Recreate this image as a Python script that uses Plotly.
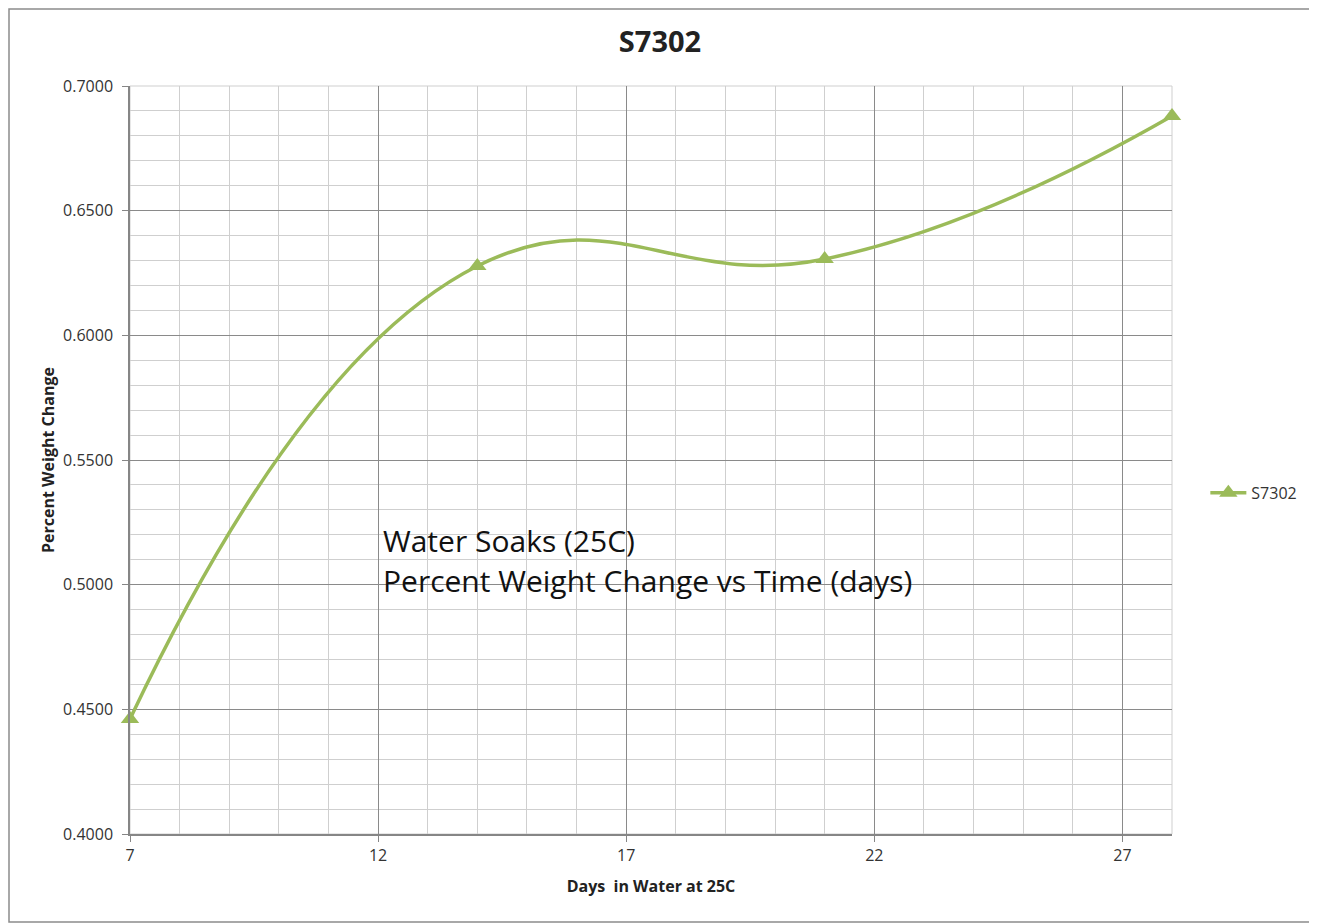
import plotly.graph_objects as go

# data
days = [7, 14, 21, 28]
weight_change = [0.4461, 0.6278, 0.6306, 0.6880]
series_name = "S7302"

green = "#9BBB59"
font_family = "Open Sans, Noto Sans, Liberation Sans, sans-serif"

# the page adds an 8px body margin, so the figure is a bit smaller than the window
W, H = 1309, 916
L, T, PW, PH = 122, 78, 1042, 748

fig = go.Figure()

fig.add_trace(go.Scatter(
    x=days, y=weight_change, name=series_name,
    mode="lines+markers", cliponaxis=False,
    line=dict(color=green, width=3.5, shape="spline", smoothing=1.3),
    marker=dict(symbol="triangle-up", size=16, color=green),
))

# chart text inside the plot
fig.add_annotation(x=12.05, y=0.5179, xref="x", yref="y", text="Water Soaks (25C)",
                   showarrow=False, xanchor="left", yanchor="middle",
                   font=dict(size=30, color="#111111", family=font_family))
fig.add_annotation(x=12.05, y=0.5015, xref="x", yref="y",
                   text="Percent Weight Change vs Time (days)",
                   showarrow=False, xanchor="left", yanchor="middle",
                   font=dict(size=30, color="#111111", family=font_family))

# outer chart border
fig.add_shape(type="rect", xref="paper", yref="paper",
              x0=(1 - L) / PW, x1=(W - 2 - L) / PW,
              y0=-(H - 2 - T - PH) / PH, y1=(T + PH - 1) / PH,
              line=dict(color="#8c8c8c", width=1.5), layer="below")

fig.update_layout(
    width=W, height=H,
    margin=dict(l=L, r=W - L - PW, t=T, b=H - T - PH),
    paper_bgcolor="white", plot_bgcolor="white",
    font=dict(family=font_family, color="#333333"),
    title=dict(text="<b>S7302</b>", x=652 / W, xanchor="center",
               y=1 - 34 / H, yanchor="middle", yref="container",
               font=dict(size=29, color="#222222")),
    showlegend=True,
    legend=dict(x=1.032, y=0.456, xanchor="left", yanchor="middle",
                font=dict(size=16, color="#333333"), bgcolor="rgba(0,0,0,0)",
                itemwidth=36),
)

fig.update_xaxes(
    range=[7, 28], tick0=7, dtick=5, ticks="outside", ticklen=6,
    tickcolor="#868686", tickfont=dict(size=16, color="#333333"),
    showgrid=True, gridcolor="#8a8a8a", gridwidth=1,
    minor=dict(dtick=1, tick0=7, showgrid=True, gridcolor="#cfcfcf", gridwidth=1),
    showline=True, linecolor="#868686", linewidth=1.5, mirror=False,
    zeroline=False,
    title=dict(text="<b>Days  in Water at 25C</b>", font=dict(size=16, color="#222222"),
               standoff=16),
)

fig.update_yaxes(
    range=[0.4, 0.7], tick0=0.4, dtick=0.05, tickformat=".4f",
    ticks="outside", ticklen=6, tickcolor="#868686", ticklabelstandoff=6,
    tickfont=dict(size=16, color="#333333"),
    showgrid=True, gridcolor="#8a8a8a", gridwidth=1,
    minor=dict(dtick=0.01, showgrid=True, gridcolor="#cfcfcf", gridwidth=1),
    showline=True, linecolor="#868686", linewidth=1.5,
    zeroline=False,
    title=dict(text="<b>Percent Weight Change</b>", font=dict(size=16, color="#222222"),
               standoff=4),
)

# light border on top and right of the plot area
fig.add_shape(type="rect", xref="paper", yref="paper", x0=0, x1=1, y0=0, y1=1,
              line=dict(color="#cfcfcf", width=1), layer="below")

fig.write_html("out.html")
